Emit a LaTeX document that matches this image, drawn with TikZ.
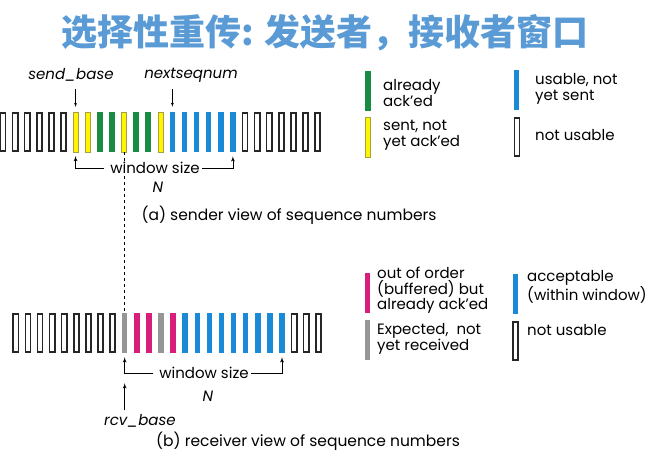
\documentclass[tikz,border=0pt]{standalone}
\usepackage{fontspec}
\setmainfont{Poppins}
\newfontfamily\cjk{Noto Sans CJK SC}
\usetikzlibrary{arrows, positioning}

\definecolor{titleblue}{RGB}{91,155,213}
\definecolor{ackgreen}{RGB}{24,140,66}
\definecolor{sentyellow}{RGB}{255,245,0}
\definecolor{useblue}{RGB}{27,138,214}
\definecolor{bufmagenta}{RGB}{214,30,122}
\definecolor{waitgray}{RGB}{150,150,150}

\begin{document}
\begin{tikzpicture}[x=1pt, y=-1pt, >=latex', font=\fontsize{15}{15.5}\selectfont]
    \tikzstyle{bar}=[rectangle, inner sep=0pt, minimum width=5.5pt, minimum height=40pt]
    \tikzstyle{freebar}=[bar, draw=black!85, line width=1.6pt, fill=white, minimum width=5.2pt, minimum height=38.4pt]
    \tikzstyle{sentbar}=[bar, fill=sentyellow, draw=yellow!60!black, line width=0.5pt, minimum width=5pt, minimum height=39.5pt]
    \tikzstyle{ackbar}=[bar, fill=ackgreen]
    \tikzstyle{usebar}=[bar, fill=useblue]
    \tikzstyle{bufbar}=[bar, fill=bufmagenta]
    \tikzstyle{waitbar}=[bar, fill=waitgray]
    \tikzstyle{note}=[inner sep=0pt, anchor=west, align=left]
    \tikzstyle{ital}=[inner sep=0pt, font=\itshape\fontsize{15}{15.5}\selectfont]

    \useasboundingbox (0,0) rectangle (650,456);

    % Title
    \node[font=\cjk\bfseries\fontsize{36}{40}\selectfont, text=titleblue] (title) at (325, 33) {选择性重传: 发送者，接收者窗口};

    % Sender view
    \foreach \t [count=\i from 0] in {free,free,free,free,free,free,sent,sent,ack,ack,sent,ack,ack,sent,use,use,use,use,use,use,free,free,free,free,free,free,free}
        \node[\t bar] (s\i) at ({3+12.1*\i}, 132) {};

    \node[ital] (sbase) at (71, 75) {send\_base};
    \node[ital] (nseq) at (191, 75) {nextseqnum};
    \draw[->, shorten <=7pt, shorten >=5pt] (s6.north |- sbase.south) -- (s6.north);
    \draw[->, shorten <=7pt, shorten >=5pt] (s14.north |- nseq.south) -- (s14.north);

    \node[inner sep=0pt] (swin) at (155, 168) {window size};
    \node[ital] (sN) at (158, 187) {N};
    \draw[->, shorten <=6pt, shorten >=4pt, thick] (swin.west) -| (s6.south);
    \draw[->, shorten <=2pt, shorten >=4pt, thick] (swin.east) -| (s19.south);

    \node[inner sep=0pt, font=\fontsize{15.5}{16}\selectfont] (scap) at (289, 215) {(a) sender view of sequence numbers};

    % Sender legend
    \node[ackbar] (lg_ack) at (368, 90.5) {};
    \node[sentbar] (lg_sent) at (368, 137) {};
    \node[usebar] (lg_use) at (516.5, 90) {};
    \node[freebar] (lg_free) at (517, 137) {};
    \node[note] (t_ack) at (383, 93) {already\\ack'ed};
    \node[note] (t_sent) at (383, 135.5) {sent, not\\yet ack'ed};
    \node[note] (t_use) at (535, 89) {usable, not\\yet sent};
    \node[note] (t_free) at (535, 135) {not usable};

    % Receiver view
    \foreach \t [count=\i from 0] in {free,free,free,free,free,free,free,free,free,wait,buf,buf,wait,buf,use,use,use,use,use,use,use,use,use,free,free,free}
        \node[\t bar] (r\i) at ({15.8+12.1*\i}, 333) {};

    \draw[dashed, thick] (s10.south) -- (s10.south |- r9.north);

    \node[inner sep=0pt] (rwin) at (204, 373) {window size};
    \node[ital] (rN) at (208, 396) {N};
    \draw[->, shorten <=6pt, shorten >=4pt, thick] (rwin.west) -| (r9.south);
    \draw[->, shorten <=2pt, shorten >=4pt, thick] (rwin.east) -| (r22.south);

    \node[ital] (rbase) at (140, 421) {rcv\_base};
    \draw[->, shorten <=4pt, shorten >=30pt, thick] (r9.south |- rbase.north) -- (r9.south);

    \node[inner sep=0pt, font=\fontsize{15.5}{16}\selectfont] (rcap) at (308, 441) {(b) receiver view of sequence numbers};

    % Receiver legend
    \node[bufbar] (lg_buf) at (367.5, 293) {};
    \node[waitbar] (lg_wait) at (367.5, 340) {};
    \node[usebar] (lg_ok) at (515.5, 294) {};
    \node[freebar] (lg_no) at (515.5, 341) {};
    \node[note] (t_buf) at (377, 290.5) {out of order\\(buffered) but\\already ack'ed};
    \node[note] (t_wait) at (377, 339) {Expected,\ \ not\\yet received};
    \node[note] (t_ok) at (527, 286.5) {acceptable\\(within window)};
    \node[note] (t_no) at (527, 330) {not usable};
\end{tikzpicture}
\end{document}
